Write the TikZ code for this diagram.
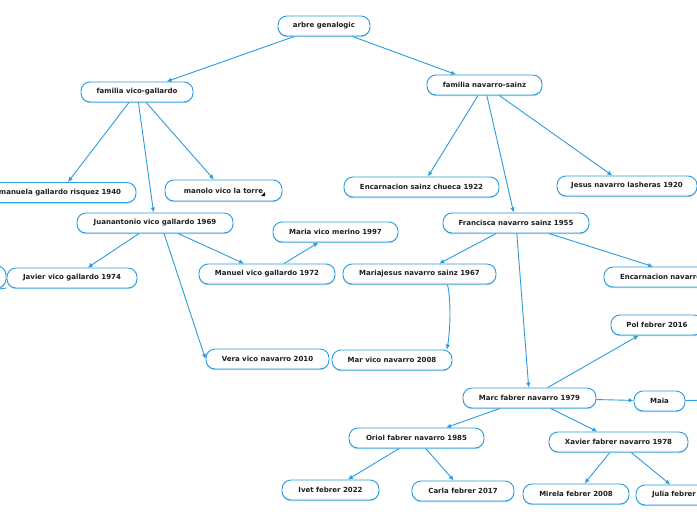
\documentclass[tikz,border=0pt]{standalone}
\usepackage{fontspec}
\setmainfont{DejaVu Sans}
\usetikzlibrary{arrows.meta,shadows,calc}
\definecolor{lc}{RGB}{42,157,224}
\definecolor{sc}{RGB}{160,210,242}
\definecolor{txt}{RGB}{30,30,30}
\begin{document}
\begin{tikzpicture}[x=1pt,y=-1pt,
  box/.style={draw=lc, line width=0.9pt, fill=white, rounded corners=9pt,
    minimum height=20pt, inner xsep=0pt, inner ysep=0pt,
    font=\fontsize{7}{8}\selectfont\bfseries, text=txt,
    drop shadow={shadow xshift=0pt, shadow yshift=-1.1pt, fill=sc, opacity=1}},
  con/.style={draw=lc, line width=0.9pt, -{Latex[length=5pt,width=4.5pt]}},
  plain/.style={draw=lc, line width=0.9pt}]
\useasboundingbox (0,0) rectangle (697,520);
\clip (0,0) rectangle (697,520);
\fill[white] (0,0) rectangle (697,520);

\node[box, minimum width=92pt] (arbre) at (324,26) {arbre genalogic};
\node[box, minimum width=112pt] (vico) at (137,92) {familia vico-gallardo};
\node[box, minimum width=115pt] (nav) at (484.5,85) {familia navarro-sainz};
\node[box, minimum width=152pt] (manuela) at (60,192.5) {manuela gallardo risquez 1940};
\node[box, minimum width=117pt, minimum height=21pt] (manolo) at (223.5,190.5) {manolo vico la torre\hspace{4pt}};
\node[box, minimum width=155pt] (encS) at (421.5,187) {Encarnacion sainz chueca 1922};
\node[box, minimum width=140pt] (jesus) at (627,186) {Jesus navarro lasheras 1920};
\node[box, minimum width=156pt] (juan) at (155,223) {Juanantonio vico gallardo 1969};
\node[box, minimum width=125pt] (maria) at (335.5,232) {Maria vico merino 1997};
\node[box, minimum width=60pt, minimum height=22pt] (offbox) at (-24,277) {};
\node[box, minimum width=130pt] (javier) at (72,278) {Javier vico gallardo 1974};
\node[box, minimum width=136pt] (manuel) at (267,274) {Manuel vico gallardo 1972};
\node[box, minimum width=123pt] (vera) at (267.5,359) {Vera vico navarro 2010};
\node[box, minimum width=120pt] (mar) at (392,360) {Mar vico navarro 2008};
\node[box, minimum width=146pt] (fran) at (516,223) {Francisca navarro sainz 1955};
\node[box, minimum width=153pt] (mj) at (419.5,274) {Mariajesus navarro sainz 1967};
\node[box, minimum width=164pt, text width=132pt, align=left] (encN) at (686,277) {Encarnacion navarro};
\node[box, minimum width=92pt] (pol) at (657,325) {Pol febrer 2016};
\node[box, minimum width=133pt] (marc) at (529.5,398) {Marc fabrer navarro 1979};
\node[box, minimum width=51pt] (maia) at (659.5,401) {Maia};
\node[box, minimum width=135pt] (oriol) at (416.5,438) {Oriol fabrer navarro 1985};
\node[box, minimum width=139pt] (xavier) at (618.5,442) {Xavier fabrer navarro 1978};
\node[box, minimum width=97pt] (ivet) at (330.5,490) {Ivet febrer 2022};
\node[box, minimum width=102pt] (carla) at (463,491) {Carla febrer 2017};
\node[box, minimum width=106pt] (mirela) at (576,494) {Mirela febrer 2008};
\node[box, minimum width=94pt, text width=62pt, align=left] (julia) at (683,495) {Julia febrer};

\coordinate (offL) at (-40,295);
\coordinate (offR) at (712,400);

\fill[black] ($(manolo.center)+(41.5,1.5)$) -- ($(manolo.center)+(41.5,5.5)$) -- ($(manolo.center)+(37.5,5.5)$) -- cycle;

\draw[con] (arbre) -- (vico);
\draw[con] (arbre) -- (nav);
\draw[con] (vico) -- (manuela);
\draw[con] (vico) -- (juan);
\draw[con] (vico) -- (manolo);
\draw[con] (nav) -- (encS);
\draw[con] (nav) -- (fran);
\draw[con] (nav) -- (jesus);
\draw[con] (juan) -- (javier);
\draw[con] (juan) -- (manuel);
\draw[con] ([xshift=9pt]juan.south) -- (vera.west);
\draw[con] (manuel) -- (maria);
\draw[con] (fran) -- (mj);
\draw[con] (fran) -- (encN);
\draw[con] (fran) -- (marc);
\draw[con] ([xshift=28pt]mj.south) .. controls +(4,18) and +(3,-18) .. ([xshift=55pt]mar.north);
\draw[con] (marc) -- (pol);
\draw[con] (marc) -- (maia);
\draw[con] (marc) -- (oriol);
\draw[con] (marc) -- (xavier);
\draw[con] (oriol) -- (ivet);
\draw[con] (oriol) -- (carla);
\draw[con] (xavier) -- (mirela);
\draw[con] (xavier) -- (julia);
\draw[plain] (maia) -- (offR);
\draw[plain] (javier) -- (offL);
\end{tikzpicture}
\end{document}
